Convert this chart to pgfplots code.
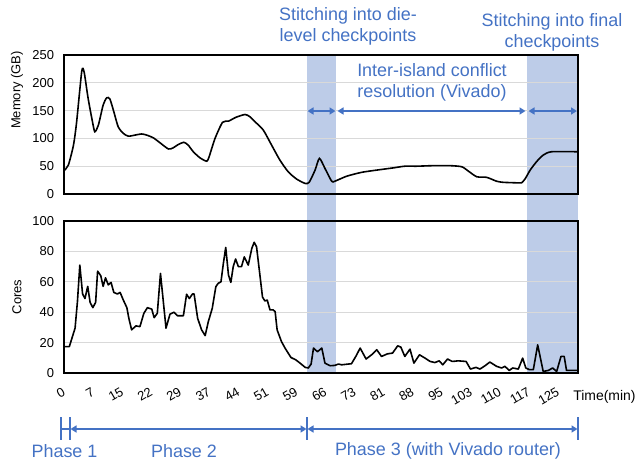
\documentclass[border=0pt]{standalone}
\usepackage{fontspec}
\setmainfont{Liberation Sans}
\usepackage{pgfplots}
\pgfplotsset{compat=1.18}
\usetikzlibrary{arrows.meta}

\definecolor{accblue}{RGB}{68,114,196}
\definecolor{bandblue}{RGB}{189,204,232}
\definecolor{gridgray}{RGB}{217,217,217}

\pgfplotsset{
  panel/.style={
    scale only axis, width=514bp,
    xmin=0, xmax=130,
    axis line style={black, line width=1.6bp},
    ymajorgrids, grid style={gridgray, line width=0.8bp},
    major tick length=0pt,
    ticklabel style={font=\fontsize{13}{13}\selectfont},
    /pgf/number format/assume math mode=true,
    yticklabel style={xshift=-6.5bp},
  }
}

\begin{document}
\begin{tikzpicture}[x=1bp,y=1bp]
  \path[use as bounding box] (0,0) rectangle (636,-461);

  % shaded stitching phases (behind both panels)
  \fill[bandblue] (307,-55) rectangle (336,-373);
  \fill[bandblue] (527,-55) rectangle (578,-373);

  % memory
  \begin{axis}[panel, at={(64bp,-194bp)}, anchor=south west, height=139bp,
      ymin=0, ymax=250, ytick={0,50,...,250}, xtick=\empty,
      every axis y label/.style={at={(axis description cs:-0.0914,0.748)}, rotate=90, anchor=center,
        font=\fontsize{13}{13}\selectfont},
      ylabel={Memory (GB)}]
    \addplot[black, line width=1.6bp, smooth, tension=0.4] coordinates {
      (0,42) (1.1,52) (2.4,88) (3.2,130) (4.5,221) (5.1,219) (6.1,172) (7.2,130)
      (7.8,112) (8.7,124) (9.9,160) (10.8,173) (11.6,171) (12.6,148) (13.7,121)
      (15.0,109) (16.3,104) (18.0,106) (19.6,108) (20.9,106) (22.6,101) (24.3,92)
      (26.4,81) (27.6,83) (28.9,89) (30.3,93) (31.4,88) (32.7,76) (34.4,65)
      (36.1,59) (36.7,67) (38.2,100) (40.1,129) (41.6,131) (43.5,138) (45.8,143)
      (47.0,139) (48.3,130) (50.4,115) (52.5,88) (54.6,61) (56.7,40) (58.8,27)
      (61.0,19) (62.0,21) (63.5,43) (64.6,64) (66.0,46) (67.7,23) (68.5,23)
      (71.5,32) (75.3,39) (79.1,43) (83.3,47) (86.2,50) (89.2,50) (93.4,51)
      (97.6,51) (100.6,49) (102.3,41) (104.4,31) (106.9,30) (109.4,23) (111.1,21)
      (114.9,20) (115.7,20) (116.6,27) (117.9,43) (119.5,58) (121.2,70) (123.3,76)
      (129.8,76)
    };
  \end{axis}

  % cores
  \begin{axis}[panel, at={(64bp,-373bp)}, anchor=south west, height=152bp,
      ymin=0, ymax=100, ytick={0,20,...,100},
      xtick={0,7.35,14.7,22.05,29.4,36.75,44.1,51.45,58.8,66.15,73.5,80.85,88.2,95.55,102.9,110.25,117.6,124.95},
      xticklabels={0,7,15,22,29,37,44,51,59,66,73,81,88,95,103,110,117,125},
      xticklabel style={xshift=3bp, yshift=-16bp, rotate=30, anchor=east},
      every axis y label/.style={at={(axis description cs:-0.0914,0.5)}, rotate=90, anchor=center,
        font=\fontsize{13}{13}\selectfont},
      ylabel={Cores},
      every axis x label/.style={at={(axis description cs:0.984,-0.155)}, anchor=west, font=\fontsize{14}{14}\selectfont},
      xlabel={Time(min)}]
    \addplot[black, line width=1.6bp, line join=round] coordinates {
      (0,17.4) (1.35,17.4) (2.8,29.5) (3.4,47) (4.0,71) (4.7,52) (5.3,49) (6.0,57)
      (6.6,46.5) (7.3,43) (8.0,46.5) (8.5,67) (9.3,64) (9.9,57) (10.5,62.6) (11.2,58)
      (11.9,59.6) (12.6,53) (13.5,52) (14.2,53) (15.0,48) (15.9,43) (16.4,36)
      (17.1,28.4) (18.2,31) (19.2,30.5) (20.2,39.3) (21.1,43) (22.2,42) (22.8,36.4)
      (23.6,39.3) (24.4,65.5) (25.8,29.5) (26.8,38.7) (27.8,40) (28.7,37.7) (30.2,37.7)
      (31.0,51.8) (31.7,49) (32.5,52) (32.9,52) (33.8,36) (34.8,28.4) (35.7,24.6)
      (36.5,33.8) (37.5,42.6) (38.4,56.8) (39.0,59) (39.7,60) (40.3,72) (40.9,82.6)
      (41.6,64.4) (42.2,59.6) (42.8,70) (43.4,75) (44.1,70) (44.9,70) (45.6,76.4)
      (46.6,71) (47.5,82) (48.1,86) (48.7,83) (49.6,63.3) (50.2,50) (50.8,47.4)
      (51.4,48) (52.1,41.5) (52.9,41.5) (53.4,40.4) (53.9,28.4) (55.0,20.7) (55.9,16.4)
      (57.4,10.2) (58.6,8.7) (59.7,6.5) (61.0,3.7) (61.8,3.3) (62.5,5.9) (63.1,16.4)
      (64.1,14) (65.2,16.4) (66.0,6.5) (67.3,4.8) (68.5,5) (69.4,5.9) (70.2,5.4)
      (72.7,6.1) (73.8,10.9) (74.9,16.4) (76.4,9.2) (77.8,12) (79.1,15.3) (80.3,10.9)
      (81.8,12.6) (83.1,13.1) (84.4,17.9) (85.2,17) (86.2,10.9) (87.5,15.7) (88.5,6.5)
      (89.9,12) (91.3,9.8) (92.6,7.6) (93.8,6.9) (94.9,8) (95.8,5.4) (97.0,9.2)
      (98.2,7.6) (99.7,8) (101.7,7.6) (102.8,2.6) (104.2,3.7) (105.2,2.6) (106.5,4.8)
      (107.7,7.2) (109.4,4.4) (110.7,3.3) (111.5,4.4) (112.6,1.7) (113.5,3.3)
      (114.9,2.6) (116.0,9.8) (116.8,3.3) (117.7,2.2) (118.7,2.2) (119.8,18.5)
      (121.2,1) (122.5,1.7) (123.6,3.3) (124.6,1) (125.7,10.9) (126.5,10.9)
      (127.1,1.7) (130,1.7)
    };
  \end{axis}

  % annotations
  \tikzset{blab/.style={text=accblue, align=center, font=\fontsize{18}{21}\selectfont},
           barr/.style={accblue, line width=1.5bp, {Triangle[length=6bp,width=7bp]}-{Triangle[length=6bp,width=7bp]}}}
  \node[blab] at (348,-26.5) {Stitching into die-\\level checkpoints};
  \node[blab] at (432,-82) {Inter-island conflict\\resolution (Vivado)};
  \node[blab] at (552,-32) {Stitching into final\\checkpoints};
  \draw[barr] (307.5,-111) -- (335.5,-111);
  \draw[barr] (337.5,-111) -- (525.5,-111);
  \draw[barr] (528.5,-111) -- (577,-111);

  % phases
  \foreach \xx in {61,70,307,578} \draw[accblue, line width=1.5bp] (\xx,-417) -- (\xx,-440);
  \draw[accblue, line width=1.5bp] (61,-429) -- (70,-429);
  \draw[barr] (70.5,-429) -- (306.5,-429);
  \draw[barr] (307.5,-429) -- (577.5,-429);
  \node[blab] at (64.5,-451) {Phase 1};
  \node[blab] at (184,-451) {Phase 2};
  \node[blab] at (448,-451) {Phase 3 (with Vivado router)};
\end{tikzpicture}
\end{document}
